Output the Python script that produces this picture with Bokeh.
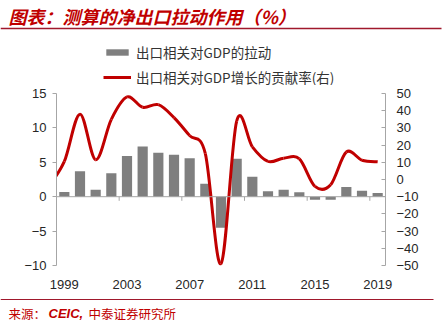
from bokeh.plotting import figure
from bokeh.models import Range1d, LinearAxis, FixedTicker, Span, Legend, LegendItem
from bokeh.layouts import column
from bokeh.embed import file_html
from bokeh.resources import INLINE
from bokeh.core.properties import value

# ---------------- data ----------------
years = list(range(1999, 2020))
bar_values = [0.7, 3.7, 1.0, 3.4, 5.9, 7.3, 6.4, 6.1, 5.6, 1.9, -4.5,
              5.5, 2.9, 0.8, 1.0, 0.65, -0.45, -0.45, 1.4, 0.85, 0.55]

line_years = list(range(1998, 2020))
line_values = [-4, 10.5, 38, 11.5, 35, 48, 42, 43.5, 36, 25.5, 15, -49,
               34, 19, 10.5, 12.4, 12, -4, -3, 16, 11.2, 10.3]

x_tick_years = [1999, 2003, 2007, 2011, 2015, 2019]
left_ticks = [-10, -5, 0, 5, 10, 15]
right_ticks = [-50, -40, -30, -20, -10, 0, 10, 20, 30, 40, 50]

title_text = "图表：测算的净出口拉动作用（%）"
bar_label = "出口相关对GDP的拉动"
line_label = "出口相关对GDP增长的贡献率(右)"
source_parts = ["来源：", "CEIC,", "中泰证券研究所"]

# ---------------- style ----------------
W = 447
RED = "#C00000"
RULE_RED = "#A0182C"
BAR_GRAY = "#7f7f7f"
AXIS_GRAY = "#a6a6a6"
TXT = "#262626"
CJK = "Noto Sans CJK SC"
NUM = "Liberation Sans"
BAR_W = 0.65
LINE_W = 3


def minus(v):
    return str(v).replace("-", "\u2212")


# ---------------- header: title, rule, legend ----------------
HH = 85
hdr = figure(width=W, height=HH, x_range=Range1d(0, W), y_range=Range1d(HH, 0),
             toolbar_location=None, output_backend="svg", min_border=0,
             x_axis_type=None, y_axis_type=None, outline_line_color=None,
             frame_align=False)
hdr.text(x=[8], y=[15], text=[title_text], text_font=value(CJK),
         text_font_size="18px", text_font_style="bold italic", text_color=RED,
         text_baseline="middle", text_align="left")
hdr.segment(x0=[0], y0=[28], x1=[441], y1=[28], line_color=RULE_RED, line_width=1.5)

# legend keys: same series and styles as the chart (they fall outside this
# header's range, so only their legend swatches show)
bar_key = hdr.vbar(x=years, top=bar_values, width=BAR_W, fill_color=BAR_GRAY, line_color=None)
line_key = hdr.line(x=line_years, y=line_values, line_color=RED, line_width=LINE_W)
legend = Legend(items=[LegendItem(label=bar_label, renderers=[bar_key]),
                       LegendItem(label=line_label, renderers=[line_key])],
                location=(103, -1.5), orientation="vertical",
                glyph_width=28, glyph_height=8, label_height=20, spacing=5,
                label_standoff=5, padding=0, margin=0,
                border_line_color=None, background_fill_alpha=0,
                label_text_font=CJK, label_text_font_size="13.5px",
                label_text_color="#333333")
hdr.add_layout(legend)

# ---------------- main chart ----------------
p = figure(width=W, height=294 - HH, x_range=Range1d(1998.5, 2019.5), y_range=Range1d(-10, 15),
           toolbar_location=None, output_backend="svg",
           min_border_left=56, min_border_right=62, min_border_top=93 - HH, min_border_bottom=29,
           outline_line_color=None, frame_align=False)
p.extra_y_ranges = {"right": Range1d(-50, 50)}
p.xgrid.visible = False
p.ygrid.visible = False

bars = p.vbar(x=years, top=bar_values, width=BAR_W, fill_color=BAR_GRAY, line_color=None)

# smooth curve (Catmull-Rom -> cubic Bezier) through the data points
n = len(line_years)
x0s, y0s, x1s, y1s, cx0s, cy0s, cx1s, cy1s = [], [], [], [], [], [], [], []
for i in range(n - 1):
    im1 = max(i - 1, 0)
    ip2 = min(i + 2, n - 1)
    xa_, ya_ = line_years[i], line_values[i]
    xb_, yb_ = line_years[i + 1], line_values[i + 1]
    x0s.append(xa_); y0s.append(ya_); x1s.append(xb_); y1s.append(yb_)
    cx0s.append(xa_ + (xb_ - line_years[im1]) / 6.0)
    cy0s.append(ya_ + (yb_ - line_values[im1]) / 6.0)
    cx1s.append(xb_ - (line_years[ip2] - xa_) / 6.0)
    cy1s.append(yb_ - (line_values[ip2] - ya_) / 6.0)
curve = p.bezier(x0=x0s, y0=y0s, x1=x1s, y1=y1s, cx0=cx0s, cy0=cy0s, cx1=cx1s, cy1=cy1s,
                 y_range_name="right", line_color=RED, line_width=LINE_W)

# zero line with category-group tick marks
p.add_layout(Span(location=0, dimension="width", line_color=AXIS_GRAY, line_width=1))
bounds = [t - 0.5 for t in x_tick_years[1:]]
p.segment(x0=bounds, y0=[0] * len(bounds), x1=bounds, y1=[-0.6] * len(bounds),
          line_color=AXIS_GRAY, line_width=1)

# x axis (labels only, at the bottom)
xa = p.xaxis[0]
xa.ticker = FixedTicker(ticks=x_tick_years)
xa.axis_line_color = None
xa.major_tick_line_color = None
xa.minor_tick_line_color = None
xa.major_label_standoff = 8
xa.major_label_text_font = NUM
xa.major_label_text_font_size = "13px"
xa.major_label_text_color = TXT

# left axis
ya = p.yaxis[0]
ya.ticker = FixedTicker(ticks=left_ticks)
ya.major_label_overrides = {t: minus(t) for t in left_ticks}
ya.axis_line_color = AXIS_GRAY
ya.major_tick_line_color = AXIS_GRAY
ya.major_tick_out = 4
ya.major_tick_in = 0
ya.minor_tick_line_color = None
ya.major_label_standoff = 6
ya.major_label_text_font = NUM
ya.major_label_text_font_size = "13px"
ya.major_label_text_color = TXT

# right axis
ra = LinearAxis(y_range_name="right", ticker=FixedTicker(ticks=right_ticks))
ra.major_label_overrides = {t: minus(t) for t in right_ticks}
ra.axis_line_color = AXIS_GRAY
ra.major_tick_line_color = AXIS_GRAY
ra.major_tick_out = 0
ra.major_tick_in = 4
ra.minor_tick_line_color = None
ra.major_label_standoff = 11
ra.major_label_text_font = NUM
ra.major_label_text_font_size = "13px"
ra.major_label_text_color = TXT
p.add_layout(ra, "right")

# ---------------- footer ----------------
ftr = figure(width=W, height=28, x_range=Range1d(0, W), y_range=Range1d(322, 294),
             toolbar_location=None, output_backend="svg", min_border=0,
             x_axis_type=None, y_axis_type=None, outline_line_color=None,
             frame_align=False)
ftr.segment(x0=[0], y0=[299], x1=[433], y1=[299], line_color=RULE_RED, line_width=1)
ftr.text(x=[8], y=[313], text=[source_parts[0]], text_font=value(CJK), text_font_size="12.5px",
         text_color=RED, text_baseline="middle", text_align="left")
ftr.text(x=[48], y=[313], text=[source_parts[1]], text_font=value(NUM), text_font_size="13px",
         text_font_style="bold italic", text_color=RED, text_baseline="middle", text_align="left")
ftr.text(x=[88], y=[313], text=[source_parts[2]], text_font=value(CJK), text_font_size="12.5px",
         text_color=RED, text_baseline="middle", text_align="left")

layout = column(hdr, p, ftr, spacing=0)
open("out.html", "w").write(file_html(layout, INLINE))
